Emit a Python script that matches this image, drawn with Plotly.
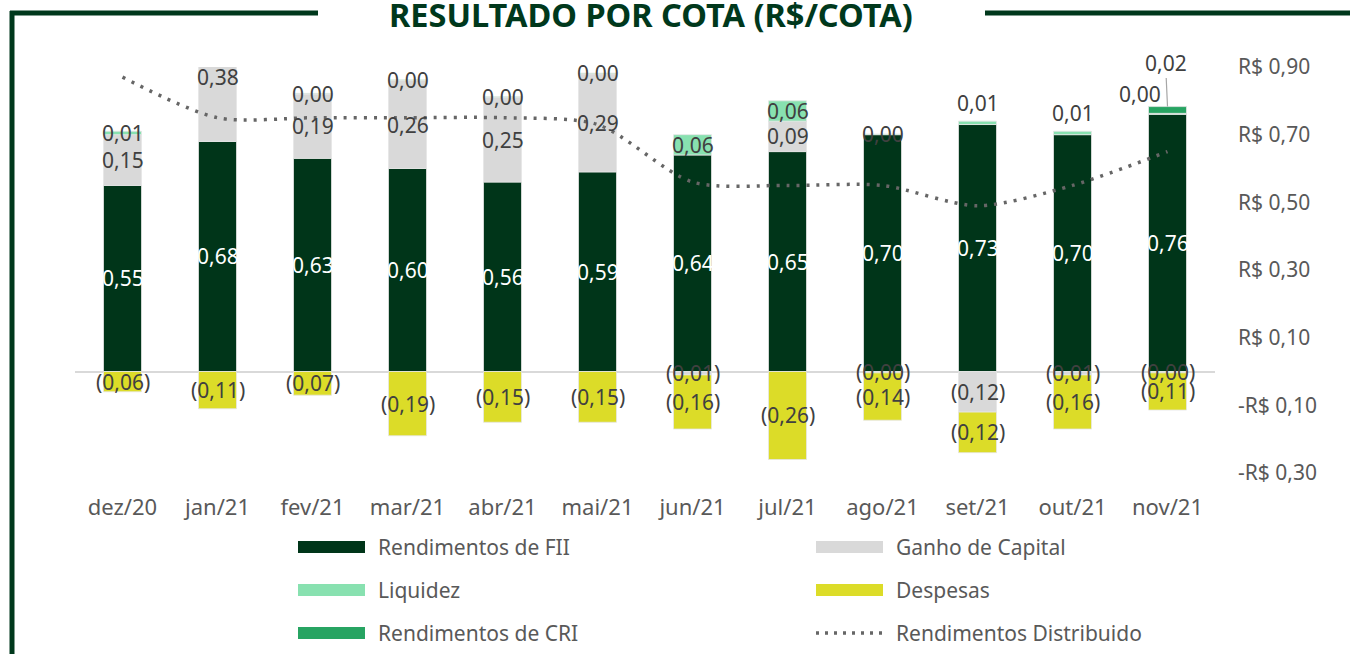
import plotly.graph_objects as go

# ---------------- data ----------------
categories = ["dez/20", "jan/21", "fev/21", "mar/21", "abr/21", "mai/21",
              "jun/21", "jul/21", "ago/21", "set/21", "out/21", "nov/21"]
rend_fii = [0.55, 0.68, 0.63, 0.60, 0.56, 0.59, 0.64, 0.65, 0.70, 0.73, 0.70, 0.76]
ganho_capital = [0.15, 0.38, 0.19, 0.26, 0.25, 0.29, -0.01, 0.09, -0.004, -0.12, -0.01, -0.004]
liquidez = [0.01, 0.003, 0.002, 0.002, 0.002, 0.002, 0.06, 0.06, 0.002, 0.01, 0.01, 0.003]
rend_cri = [None, None, None, None, None, None, None, None, None, None, None, 0.02]
despesas = [-0.06, -0.11, -0.07, -0.19, -0.15, -0.15, -0.16, -0.26, -0.14, -0.12, -0.16, -0.11]
rend_distribuido = [0.87, 0.75, 0.75, 0.75, 0.75, 0.73, 0.56, 0.55, 0.55, 0.49, 0.55, 0.65]

y_tickvals = [-0.3, -0.1, 0.1, 0.3, 0.5, 0.7, 0.9]
y_ticktext = ["-R$ 0,30", "-R$ 0,10", "R$ 0,10", "R$ 0,30", "R$ 0,50", "R$ 0,70", "R$ 0,90"]

title_text = "RESULTADO POR COTA (R$/COTA)"

# ---------------- style ----------------
FONT = "Noto Sans"
C_FII = "#003519"
C_GANHO = "#d9d9d9"
C_LIQ = "#88e1b0"
C_CRI = "#27a462"
C_DESP = "#dcdc28"
C_LINE = "#666666"
C_FRAME = "#00381c"
C_LABEL = "#404040"
C_TICK = "#595959"

W, H = 1350, 654
ML, MR, MT, MB = 75, 135, 67, 181
YMIN, YMAX = -0.3, 0.9
PW, PH = W - ML - MR, H - MT - MB


def px_x(px):
    return (px - ML) / PW


def px_y(py):
    return (H - MB - py) / PH


def fmt(v):
    s = f"{abs(v):.2f}".replace(".", ",")
    return f"({s})" if v < 0 else s


series = [
    ("Rendimentos de FII", rend_fii, C_FII, "white"),
    ("Ganho de Capital", ganho_capital, C_GANHO, C_LABEL),
    ("Liquidez", liquidez, C_LIQ, C_LABEL),
    ("Rendimentos de CRI", rend_cri, C_CRI, C_LABEL),
    ("Despesas", despesas, C_DESP, C_LABEL),
]

fig = go.Figure()
for name, vals, color, _ in series:
    fig.add_trace(go.Bar(
        x=categories, y=vals, name=name,
        marker=dict(color=color, line=dict(color="#e6e6e6", width=0.8)),
        showlegend=False, hoverinfo="skip",
    ))

fig.add_trace(go.Scatter(
    x=categories, y=rend_distribuido, name="Rendimentos Distribuido",
    mode="lines", line=dict(color=C_LINE, width=3.5, dash="3px,7px",
                            shape="spline", smoothing=0.8),
    showlegend=False, hoverinfo="skip",
))

# ---------------- data labels (centered in stacked segments) ----------------
label_offsets = {
    ("Liquidez", "set/21"): (0, -20),
    ("Liquidez", "out/21"): (0, -20),
    ("Liquidez", "nov/21"): (-28, -20),
}
LBL = 21
annotations = []
pos_base = [0.0] * len(categories)
neg_base = [0.0] * len(categories)
for name, vals, color, tcolor in series:
    for i, v in enumerate(vals):
        if v is None:
            continue
        if v >= 0:
            base = pos_base[i]
            pos_base[i] += v
        else:
            base = neg_base[i]
            neg_base[i] += v
        mid = base + v / 2
        top = base + v
        if mid > YMAX:
            continue
        cat = categories[i]
        if name == "Rendimentos de CRI":
            annotations.append(dict(
                x=cat, y=top, text=fmt(v), showarrow=True, arrowhead=0,
                arrowwidth=1.2, arrowcolor="#a6a6a6", ax=-2, ay=-44,
                font=dict(family=FONT, size=LBL, color=tcolor),
            ))
            continue
        dx, dy = label_offsets.get((name, cat), (0, 0))
        annotations.append(dict(
            x=cat, y=mid, text=fmt(v), showarrow=False,
            xshift=dx, yshift=-dy,
            font=dict(family=FONT, size=LBL, color=tcolor),
        ))

# ---------------- custom legend ----------------
legend_items = [
    ("Rendimentos de FII", C_FII, "bar", 298, 547),
    ("Liquidez", C_LIQ, "bar", 298, 590),
    ("Rendimentos de CRI", C_CRI, "bar", 298, 633),
    ("Ganho de Capital", C_GANHO, "bar", 816, 547),
    ("Despesas", C_DESP, "bar", 816, 590),
    ("Rendimentos Distribuido", C_LINE, "line", 816, 633),
]
shapes = []
for text, color, kind, lx, ly in legend_items:
    if kind == "bar":
        shapes.append(dict(type="rect", xref="paper", yref="paper",
                           x0=px_x(lx), x1=px_x(lx + 67),
                           y0=px_y(ly + 6), y1=px_y(ly - 6),
                           fillcolor=color, line=dict(width=0)))
    else:
        shapes.append(dict(type="line", xref="paper", yref="paper",
                           x0=px_x(lx), x1=px_x(lx + 67),
                           y0=px_y(ly), y1=px_y(ly),
                           line=dict(color=color, width=3.5, dash="3px,6px")))
    annotations.append(dict(
        xref="paper", yref="paper", x=px_x(lx + 78), y=px_y(ly),
        xanchor="left", yanchor="middle", text=text, showarrow=False,
        font=dict(family=FONT, size=21, color=C_TICK),
    ))

# ---------------- frame & title ----------------
for x0, y0, x1, y1 in [(10, 13, 318, 13), (985, 13, 1352, 13), (12, 11, 12, 660)]:
    shapes.append(dict(type="line", xref="paper", yref="paper",
                       x0=px_x(x0), y0=px_y(y0), x1=px_x(x1), y1=px_y(y1),
                       line=dict(color=C_FRAME, width=5)))

annotations.append(dict(
    xref="paper", yref="paper", x=px_x(651), y=px_y(14),
    xanchor="center", yanchor="middle", text="<b>" + title_text + "</b>",
    showarrow=False, font=dict(family=FONT, size=32.5, color=C_FRAME),
))

fig.update_layout(
    width=W, height=H,
    margin=dict(l=ML, r=MR, t=MT, b=MB),
    paper_bgcolor="white", plot_bgcolor="white",
    barmode="relative", bargap=0.6,
    font=dict(family=FONT, size=21, color=C_TICK),
    showlegend=False,
    shapes=shapes, annotations=annotations,
    xaxis=dict(type="category", showgrid=False, showline=False, zeroline=False,
               ticks="", ticklabelstandoff=19,
               tickfont=dict(family=FONT, size=22, color=C_TICK)),
    yaxis=dict(range=[YMIN, YMAX], side="right", showgrid=False, showline=False,
               zeroline=True, zerolinecolor="#d9d9d9", zerolinewidth=2,
               tickvals=y_tickvals, ticktext=y_ticktext, ticks="",
               ticklabelstandoff=22,
               tickfont=dict(family=FONT, size=21, color=C_TICK)),
)

fig.write_html("out.html",
               config={"displayModeBar": False},
               post_script="document.body.style.margin='0px';document.body.style.overflow='hidden';")
